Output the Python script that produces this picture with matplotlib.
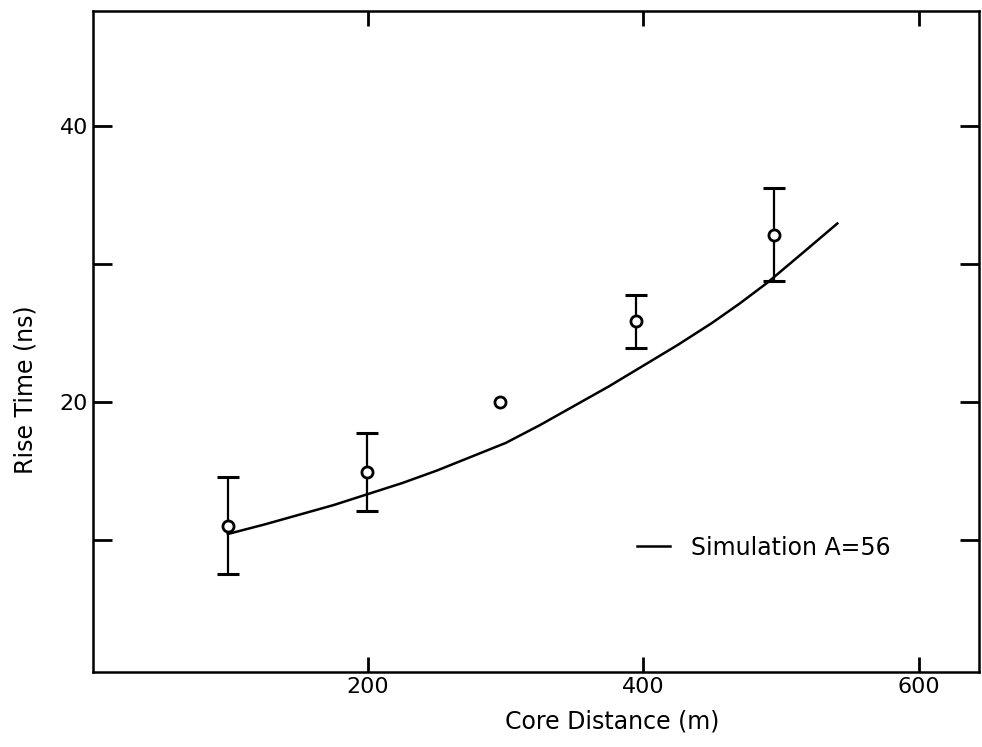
import matplotlib
matplotlib.use("Agg")
import matplotlib.pyplot as plt
from matplotlib.ticker import FixedLocator

# measured points
distance = [98, 199, 296, 395, 495]
rise_time = [11.0, 14.9, 20.0, 25.8, 32.1]
rise_err = [3.5, 2.8, 0.0, 1.9, 3.4]

# simulation curve A=56
sim_distance = [98, 125, 150, 175, 200, 225, 250, 275, 300, 325, 350, 375,
                400, 425, 450, 470, 490, 515, 541]
sim_rise = [10.4, 11.1, 11.8, 12.5, 13.3, 14.1, 15.0, 16.0, 17.0, 18.3, 19.7,
            21.1, 22.6, 24.1, 25.7, 27.1, 28.6, 30.7, 32.9]

plt.rcParams["font.family"] = ["DejaVu Sans"]

fig = plt.figure(figsize=(9.82, 7.47), dpi=100)
ax = fig.add_axes([0.0947, 0.1004, 0.9023, 0.8849])

ax.plot(sim_distance, sim_rise, color="black", lw=1.8, label="Simulation A=56")

with_err = [i for i, e in enumerate(rise_err) if e > 0]
ax.errorbar([distance[i] for i in with_err], [rise_time[i] for i in with_err],
            yerr=[rise_err[i] for i in with_err], fmt="none", ecolor="black",
            elinewidth=1.6, capsize=8, capthick=2.2)
ax.plot(distance, rise_time, "o", ms=8, mfc="white", mec="black", mew=2.0,
        zorder=5)

ax.set_xlim(0, 644)
ax.set_ylim(0.4, 48.3)

ax.xaxis.set_major_locator(FixedLocator([200, 400, 600]))
ax.yaxis.set_major_locator(FixedLocator([20, 40]))
ax.yaxis.set_minor_locator(FixedLocator([10, 30]))
ax.tick_params(which="both", direction="in", top=True, right=True,
               width=2.0, labelsize=16, color="black")
ax.tick_params(axis="y", which="both", length=14)
ax.tick_params(axis="x", which="both", length=11)
for s in ax.spines.values():
    s.set_linewidth(1.8)

ax.set_xlabel("Core Distance (m)", fontsize=17)
ax.xaxis.set_label_coords(0.586, -0.056)
ax.set_ylabel("Rise Time (ns)", fontsize=17)
ax.yaxis.set_label_coords(-0.063, 0.427)

ax.legend(loc="center left", bbox_to_anchor=(0.614, 0.188), frameon=False,
          fontsize=17, handlelength=1.4, handletextpad=0.9,
          borderaxespad=0, borderpad=0)

fig.savefig("out.png", dpi=100)
